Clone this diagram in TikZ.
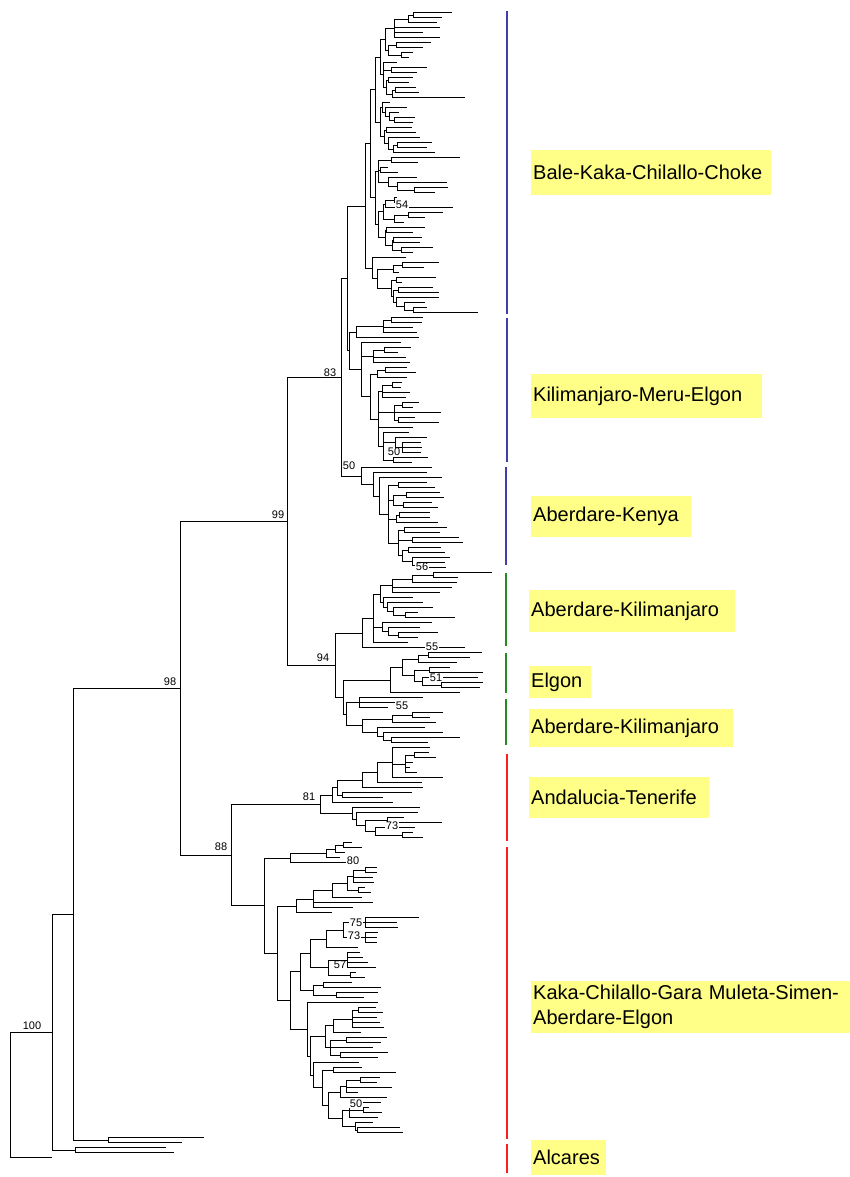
\documentclass[tikz,border=0pt]{standalone}
\usepackage{fontspec}
\setmainfont{Liberation Sans}
\definecolor{barblue}{RGB}{64,64,168}
\definecolor{bargreen}{RGB}{34,140,34}
\definecolor{barred}{RGB}{250,30,30}
\definecolor{marker}{RGB}{255,255,136}

% a subtree is {branch length, child, child, ...}; a child is a leaf end x or a subtree
\makeatletter
\def\gy{12.7}
\def\leafstep{5}
\newcommand{\subtree}[3]{%
  \foreach \twig [count=\tcount] in {#2}{%
    \ifnum\tcount=1
      \pgfmathsetmacro\nx{#1+\twig}%
      \expandafter\xdef\csname tx#3\endcsname{\nx}%
    \else
      \edef\nx{\csname tx#3\endcsname}%
      \expandafter\in@\expandafter,\expandafter{\twig}%
      \ifin@
        \pgfmathtruncatemacro\nd{#3+1}%
        \edef\tmp{\noexpand\subtree{\nx}{\twig}{\nd}}\tmp
        \edef\nx{\csname tx#3\endcsname}%
        \draw[branch] (\nx,\retY) -- (\retX,\retY);
      \else
        \xdef\retY{\gy}%
        \draw[branch] (\nx,\gy) -- (\twig,\gy);
        \pgfmathsetmacro\tmpy{\gy+\leafstep}\xdef\gy{\tmpy}%
      \fi
      \ifnum\tcount=2 \expandafter\xdef\csname ta#3\endcsname{\retY}\fi
      \expandafter\xdef\csname tb#3\endcsname{\retY}%
    \fi
  }%
  \edef\nx{\csname tx#3\endcsname}%
  \edef\ya{\csname ta#3\endcsname}%
  \edef\yb{\csname tb#3\endcsname}%
  \draw[branch] (\nx,\ya) -- (\nx,\yb);
  \pgfmathsetmacro\tmpy{(\ya+\yb)/2}%
  \xdef\retY{\tmpy}\xdef\retX{\nx}%
}
\makeatother

\def\baleA{5,{9,{14,{5,452,442},437},440,423,440},{3,{8,431,423},{13,413,409}}}
\def\baleB{3,397,{8,427,417},{3,{2,413,409},{6,{3,416,419},465}}}
\def\baleC{2,390,{3,407,{4,399,{5,415,413}}}}
\def\baleD{4,{2,412,416},{4,420,{5,{4,432,427},435}}}
\def\baleE{3,{13,460,418},{2,388,398},{10,417,{9,447,{17,448,435}}}}
\def\baleF{3,{5,{2,{9,397,395},453},{11,{14,443,425},404}},{7,{1,425,413},{7,{1,422,420},{9,433,413}}}}
\def\baleG{7,406,{5,{16,{9,439,424},399},{14,{5,436,402},{2,{5,433,439},{3,439,{8,425,{9,427,478}}}}}}}
\def\bale{18,{5,{5,{5,{\baleA},{\baleB}},{5,{\baleC},{\baleD}}},{5,{\baleE},{\baleF}}},{\baleG}}
\def\kiliA{7,{27,{8,423,422},413,417},419}
\def\kiliB{12,401,{12,{11,411,398},406,410},{9,{7,{8,407,416},407},{8,{4,{10,402,401},410,406},{16,{8,419,413},441,{4,415,439}},413,{5,409,{12,427,{7,421,422,421}},{10,428,412}}}}}
\def\kili{2,{\kiliA},{\kiliB}}
\def\aken{20,432,{12,427,{6,442,{9,{10,427,435},{5,{13,440,444},{10,432,438}},{8,{3,430,430},438},{10,{6,447,440},{14,459,463},{4,{6,441,445},{10,450,{5,445,446}}}}}}}}
\def\akiA{27,{11,{7,{12,{20,{21,492,458},457},452,440},{3,413,{4,423,{6,433,{12,418,455}}}}},{9,432,{6,420,{10,438,418}}},408},465}
\def\elgon{47,{12,{16,{10,482,470},457},{12,{15,450,483},{8,478,{19,483,480}}}},460}
\def\akiB{3,{13,423,400,388},{16,{30,{20,443,430},436},{15,425,{6,443,{8,460,428}}}}}
\def\andaA{12,{5,{25,{15,{15,430,{13,{9,429,436},413,410,417},443},422},423},{5,412,383}},393}
\def\andaB{32,420,{4,418,{9,{22,404,442},{10,415,{27,413,423}}}}}
\def\anda{89,{\andaA},{\andaB}}
\def\kakaA{26,{36,{9,{8,352,362},345},340},347}
\def\kakaB{19,{17,{19,{15,{6,{12,377,377},373,374},{11,365,371}},362},373,353},332}
\def\kakaC{10,{10,{16,{17,{22,419,397,398},{22,378,377,377}},358},{18,{19,360,363,368,376},{22,356,365}}},{13,{10,352,381},{23,378,364}}}
\def\kakaD{17,378,{3,{15,{8,{19,{6,376,383},377,380,384},361},{5,{16,387,381},373,{10,388,378}}},{3,359,{9,{11,362,396},{6,{12,{6,{14,380,377},392,358},387},{14,{7,381,{14,369,382},378},{13,373,{2,400,403}}}}}}}}
\def\kaka{33,{\kakaA},{13,{\kakaB},{13,{\kakaC},{\kakaD}}}}
\def\whole{0,{42,{21,{107,{107,{54,{6,{\bale},{\kili}},{\aken}},{48,{\akiA},{8,{\elgon},{\akiB}}}},{51,{\anda},{\kaka}}},{35,204,182}},{23,166,174}},52}

\begin{document}
\begin{tikzpicture}[x=1pt, y=-1pt,
    branch/.style={line width=0.8pt},
    cladebar/.style={line width=2pt},
    cladebox/.style={fill=marker, anchor=north west, inner xsep=2pt, inner ysep=0pt, align=left, font=\fontsize{20}{25}\selectfont},
    boot/.style={font=\fontsize{11}{12}\selectfont, inner sep=0.5pt},
    bootw/.style={boot, fill=white}]
    \useasboundingbox (0,0) rectangle (849,1177);
    \edef\tmp{\noexpand\subtree{10}{\whole}{0}}\tmp

    \node[boot] (b100) at (32,1026) {100};
    \node[boot] (b98)  at (170,682) {98};
    \node[boot] (b99)  at (278,515) {99};
    \node[boot] (b88)  at (221,847) {88};
    \node[boot] (b83)  at (330,373) {83};
    \node[boot] (b94)  at (323,658) {94};
    \node[boot] (b81)  at (309,797) {81};
    \node[boot] (b50a) at (349,466) {50};
    \node[bootw] (b54)  at (402,205) {54};
    \node[bootw] (b50b) at (394,452) {50};
    \node[bootw] (b56)  at (422,567) {56};
    \node[bootw] (b55a) at (432,647) {55};
    \node[bootw] (b51)  at (436,678) {51};
    \node[bootw] (b55b) at (402,706) {55};
    \node[bootw] (b73a) at (392,826) {73};
    \node[bootw] (b80)  at (353,861) {80};
    \node[bootw] (b75)  at (356,923) {75};
    \node[bootw] (b73b) at (354,936) {73};
    \node[bootw] (b57)  at (340,965) {57};
    \node[bootw] (b50c) at (356,1104) {50};

    \foreach \xbar/\ystart/\yend/\barcol in {507/11/314/barblue, 507/318/462/barblue, 506/467/565/barblue,
        506/573/646/bargreen, 506/653/693/bargreen, 506/699/745/bargreen,
        507/754/841/barred, 507/847/1139/barred, 507/1144/1173/barred} {
        \draw[cladebar, \barcol] (\xbar,\ystart) -- (\xbar,\yend);
    }

    \node[cladebox, text width=236pt, minimum height=45pt] (bale)  at (531,150)  {Bale-Kaka-Chilallo-Choke};
    \node[cladebox, text width=227pt, minimum height=44pt] (kili)  at (531,374)  {Kilimanjaro-Meru-Elgon};
    \node[cladebox, text width=156pt, minimum height=41pt] (aken)  at (531,496)  {Aberdare-Kenya};
    \node[cladebox, text width=202pt, minimum height=42pt] (akiA)  at (529,590)  {Aberdare-Kilimanjaro};
    \node[cladebox, text width=58pt,  minimum height=32pt] (elgon) at (529,666)  {Elgon};
    \node[cladebox, text width=200pt, minimum height=38pt] (akiB)  at (529,709)  {Aberdare-Kilimanjaro};
    \node[cladebox, text width=176pt, minimum height=41pt] (anda)  at (529,777)  {Andalucia-Tenerife};
    \node[cladebox, text width=340pt, minimum height=52pt] (kaka)  at (531,981)  {Kaka-Chilallo-Gara Muleta-Simen-\\Aberdare-Elgon};
    \node[cladebox, text width=71pt,  minimum height=35pt] (alca)  at (531,1140) {Alcares};
\end{tikzpicture}
\end{document}
